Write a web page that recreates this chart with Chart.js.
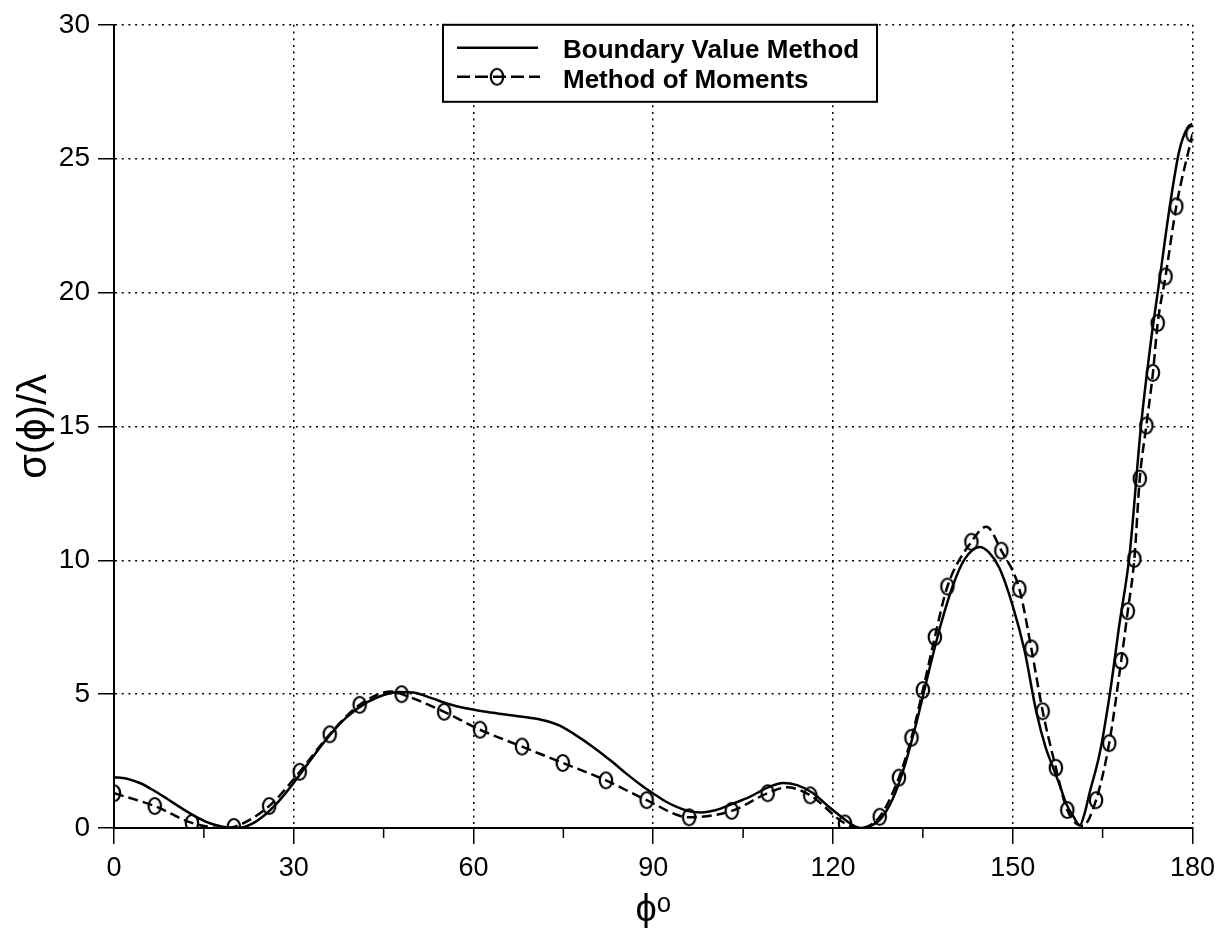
<!DOCTYPE html>
<html>
<head>
<meta charset="utf-8">
<script src="https://cdn.jsdelivr.net/npm/chart.js@4.4.0/dist/chart.umd.min.js"></script>
<style>
  body { margin: 0; background: #fff; }
  canvas { display: block; }
</style>
</head>
<body>
<canvas id="rcsChart" width="1223" height="928"></canvas>
<script>
// Boundary value method (solid curve)
const bvmPhi = [0, 2, 4.3, 6.5, 8.8, 11, 13.2, 15.2, 17.1, 19, 21, 23, 25.5, 27.7, 29.9, 32.2, 34.4, 36.6, 38.8, 42.2,
  45, 47.7, 50, 53, 56, 58.5, 61, 64, 66.6, 70, 72.5, 74.4, 77, 80, 83, 85.5, 88, 90, 92, 93.9,
  96.1, 98, 100.5, 103, 106.1, 109, 111.7, 114, 116.7, 119, 121.5, 123.5, 124.6, 126, 128, 130, 132, 134, 136, 138,
  140, 142, 144.5, 146, 147.8, 150, 152, 153.9, 155.5, 156.7, 158, 158.9, 160.2, 161.2, 162, 162.8, 164.5, 166.2, 167.8, 169.5,
  171.4, 173.1, 174.5, 176.2, 177.8, 179.2, 180];
const bvmSigma = [1.90, 1.85, 1.68, 1.42, 1.10, 0.78, 0.48, 0.25, 0.10, 0.02, 0.01, 0.15, 0.55, 1.05, 1.66, 2.35, 3.02, 3.62, 4.13, 4.69,
  4.97, 5.08, 5.06, 4.85, 4.62, 4.48, 4.38, 4.28, 4.20, 4.10, 3.98, 3.82, 3.48, 3.02, 2.50, 2.03, 1.60, 1.29, 1.00, 0.79,
  0.62, 0.58, 0.67, 0.88, 1.16, 1.50, 1.68, 1.60, 1.30, 0.85, 0.40, 0.08, 0.0, 0.05, 0.35, 1.10, 2.35, 4.00, 5.85, 7.60,
  9.05, 10.05, 10.50, 10.30, 9.70, 8.30, 6.60, 4.38, 3.00, 2.28, 1.50, 0.92, 0.40, 0.10, 0.55, 1.29, 2.77, 5.00, 7.60, 10.20,
  15.00, 18.24, 20.47, 23.20, 25.30, 26.17, 26.30];

// Method of moments, computed angles (circles)
const momPhi = [0, 6.8, 13, 20, 25.9, 31, 36, 41, 48, 55.1, 61.1, 68.1, 74.9, 82.1, 88.9, 96, 103.1, 109.1, 116.2,
  122, 127.8, 131, 133.1, 135, 137, 139.1, 143.1, 148.1, 151.1, 153.1, 155, 157.2, 159.1, 163.9, 166.1, 168.1,
  169.2, 170.3, 171.2, 172.3, 173.4, 174.2, 175.5, 177.3, 180];
const momSigma = [1.30, 0.82, 0.19, 0.04, 0.82, 2.10, 3.50, 4.60, 5.00, 4.34, 3.67, 3.04, 2.43, 1.78, 1.04, 0.40, 0.64, 1.30, 1.22,
  0.17, 0.42, 1.88, 3.37, 5.15, 7.13, 9.02, 10.69, 10.36, 8.93, 6.71, 4.36, 2.25, 0.67, 1.04, 3.17, 6.24,
  8.10, 10.05, 13.05, 15.03, 17.00, 18.86, 20.60, 23.22, 25.92];

// peaks and nulls of the dashed MoM curve that fall between the circles
const momExtraPhi = [18.3, 46.3, 112.3, 124.5, 145.6, 161.7];
const momExtraSigma = [0.0, 5.10, 1.52, 0.0, 11.25, 0.08];

const xTicks = [0, 30, 60, 90, 120, 150, 180];
const xMinorTicks = [15, 45, 75, 105, 135, 165];
const yTicks = [0, 5, 10, 15, 20, 25, 30];

const toPoints = (xs, ys) => xs.map((x, i) => ({ x: x, y: ys[i] }));

const momCurve = toPoints(momPhi, momSigma)
  .concat(toPoints(momExtraPhi, momExtraSigma))
  .sort((a, b) => a.x - b.x);

// hollow, slightly tall ring used for the MoM markers
const ring = document.createElement('canvas');
ring.width = 18;
ring.height = 22;
const rc = ring.getContext('2d');
rc.lineWidth = 2.2;
rc.strokeStyle = '#000';
rc.beginPath();
rc.ellipse(9, 11, 6.2, 8, 0, 0, Math.PI * 2);
rc.stroke();

// short ticks between the labelled angles
const minorTicks = {
  id: 'minorTicks',
  afterDraw(chart) {
    const { ctx, scales: { x } } = chart;
    ctx.save();
    ctx.strokeStyle = '#000';
    ctx.lineWidth = 1.5;
    xMinorTicks.forEach(v => {
      const px = x.getPixelForValue(v);
      ctx.beginPath();
      ctx.moveTo(px, x.top);
      ctx.lineTo(px, x.top + 10);
      ctx.stroke();
    });
    ctx.restore();
  }
};

// boxed legend in the top of the plot
const legendBox = {
  id: 'legendBox',
  afterDraw(chart) {
    const { ctx, chartArea } = chart;
    const sets = chart.data.datasets;
    const x0 = chartArea.left + 329;
    const y0 = chartArea.top;
    ctx.save();
    ctx.fillStyle = '#fff';
    ctx.fillRect(x0, y0, 434, 77);
    ctx.strokeStyle = '#000';
    ctx.lineWidth = 2;
    ctx.strokeRect(x0, y0, 434, 77);

    ctx.lineWidth = 2.5;
    ctx.beginPath();
    ctx.moveTo(x0 + 14, y0 + 23);
    ctx.lineTo(x0 + 95, y0 + 23);
    ctx.stroke();

    ctx.setLineDash([13, 5]);
    ctx.beginPath();
    ctx.moveTo(x0 + 14, y0 + 52);
    ctx.lineTo(x0 + 97, y0 + 52);
    ctx.stroke();
    ctx.setLineDash([]);
    ctx.drawImage(ring, x0 + 54 - ring.width / 2, y0 + 52 - ring.height / 2);

    ctx.fillStyle = '#000';
    ctx.font = 'bold 26px "Liberation Sans", Arial, sans-serif';
    ctx.textBaseline = 'alphabetic';
    ctx.fillText(sets[0].label, x0 + 120, y0 + 33);
    ctx.fillText(sets[1].label, x0 + 120, y0 + 63);
    ctx.restore();
  }
};

Chart.defaults.font.family = '"Liberation Sans", Arial, sans-serif';
Chart.defaults.color = '#000';

new Chart(document.getElementById('rcsChart'), {
  type: 'line',
  data: {
    datasets: [
      {
        label: 'Boundary Value Method',
        data: toPoints(bvmPhi, bvmSigma),
        borderColor: '#000',
        borderWidth: 2.5,
        pointRadius: 0,
        cubicInterpolationMode: 'monotone',
        clip: 0
      },
      {
        label: 'Method of Moments',
        data: momCurve,
        borderColor: '#000',
        borderWidth: 2.5,
        borderDash: [10, 5],
        pointRadius: 0,
        cubicInterpolationMode: 'monotone',
        clip: 0
      },
      {
        label: 'MoM samples',
        data: toPoints(momPhi, momSigma),
        showLine: false,
        pointStyle: ring,
        pointRadius: 8,
        pointHoverRadius: 8,
        clip: 0
      }
    ]
  },
  options: {
    responsive: false,
    animation: false,
    events: [],
    layout: { padding: { left: 0, right: 30, top: 20, bottom: 0 } },
    plugins: {
      legend: { display: false },
      tooltip: { enabled: false }
    },
    scales: {
      x: {
        type: 'linear',
        min: 0,
        max: 180,
        afterBuildTicks: s => { s.ticks = xTicks.map(v => ({ value: v })); },
        afterFit: s => { s.height = 100; },
        ticks: { font: { size: 27 }, padding: 8, maxRotation: 0 },
        grid: { color: '#000', lineWidth: 1.5, tickLength: 16, tickColor: '#000', tickWidth: 1.5 },
        border: { display: true, color: '#000', width: 2, dash: [2, 4.7] },
        title: { display: true, text: 'ϕᵒ', font: { size: 38 }, padding: { top: 0, bottom: -5 } }
      },
      y: {
        min: 0,
        max: 30,
        afterBuildTicks: s => { s.ticks = yTicks.map(v => ({ value: v })); },
        afterFit: s => { s.width = 114; },
        ticks: { font: { size: 28 }, padding: 8 },
        grid: { color: '#000', lineWidth: 1.5, tickLength: 16, tickColor: '#000', tickWidth: 1.5 },
        border: { display: true, color: '#000', width: 2, dash: [2, 4.7] },
        title: { display: true, text: 'σ(ϕ)/λ', font: { size: 40 }, padding: { top: 11 } }
      }
    }
  },
  plugins: [minorTicks, legendBox]
});
</script>
</body>
</html>
